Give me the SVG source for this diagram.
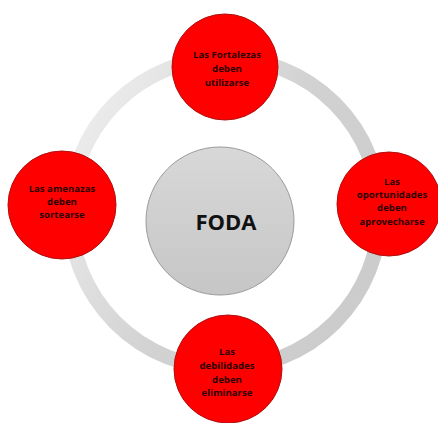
<svg xmlns="http://www.w3.org/2000/svg" width="438" height="423" viewBox="0 0 438 423">
<defs>
<linearGradient id="ringG" x1="0" y1="0" x2="1" y2="0.6">
<stop offset="0" stop-color="#f2f2f2"/>
<stop offset="0.6" stop-color="#d2d2d2"/>
<stop offset="1" stop-color="#cccccc"/>
</linearGradient>
<linearGradient id="centerG" x1="0" y1="0" x2="0" y2="1">
<stop offset="0" stop-color="#d8d8d8"/>
<stop offset="1" stop-color="#c6c6c6"/>
</linearGradient>
<style>
.node{fill:#ff0000;stroke:#b01010;stroke-width:1}
.lbl{font-family:"Open Sans","Liberation Sans",sans-serif;font-weight:bold;font-size:9.6px;fill:#2a0000;text-anchor:middle}
.big{font-family:"Open Sans","Liberation Sans",sans-serif;font-weight:bold;font-size:22px;fill:#111111;text-anchor:middle}
</style>
</defs>
<rect width="438" height="423" fill="#ffffff"/>
<g id="connectors">
<circle cx="225" cy="213" r="155" fill="none" stroke="url(#ringG)" stroke-width="15"/>
</g>
<g id="center">
<circle cx="220" cy="221" r="74" fill="url(#centerG)" stroke="#9a9a9a" stroke-width="1"/>
<text class="big" x="226" y="230">FODA</text>
</g>
<g id="fortalezas">
<circle class="node" cx="225" cy="67" r="53"/>
<text class="lbl" x="227" y="58">Las Fortalezas</text>
<text class="lbl" x="227" y="72">deben</text>
<text class="lbl" x="227" y="86">utilizarse</text>
</g>
<g id="amenazas">
<circle class="node" cx="62" cy="205" r="54"/>
<text class="lbl" x="62" y="192">Las amenazas</text>
<text class="lbl" x="62" y="205">deben</text>
<text class="lbl" x="62" y="218">sortearse</text>
</g>
<g id="oportunidades">
<circle class="node" cx="389" cy="204" r="52"/>
<text class="lbl" x="392" y="185">Las</text>
<text class="lbl" x="392" y="198">oportunidades</text>
<text class="lbl" x="392" y="211">deben</text>
<text class="lbl" x="392" y="225">aprovecharse</text>
</g>
<g id="debilidades">
<circle class="node" cx="228" cy="369" r="54"/>
<text class="lbl" x="227" y="355">Las</text>
<text class="lbl" x="227" y="369">debilidades</text>
<text class="lbl" x="227" y="383">deben</text>
<text class="lbl" x="227" y="396">eliminarse</text>
</g>
</svg>
